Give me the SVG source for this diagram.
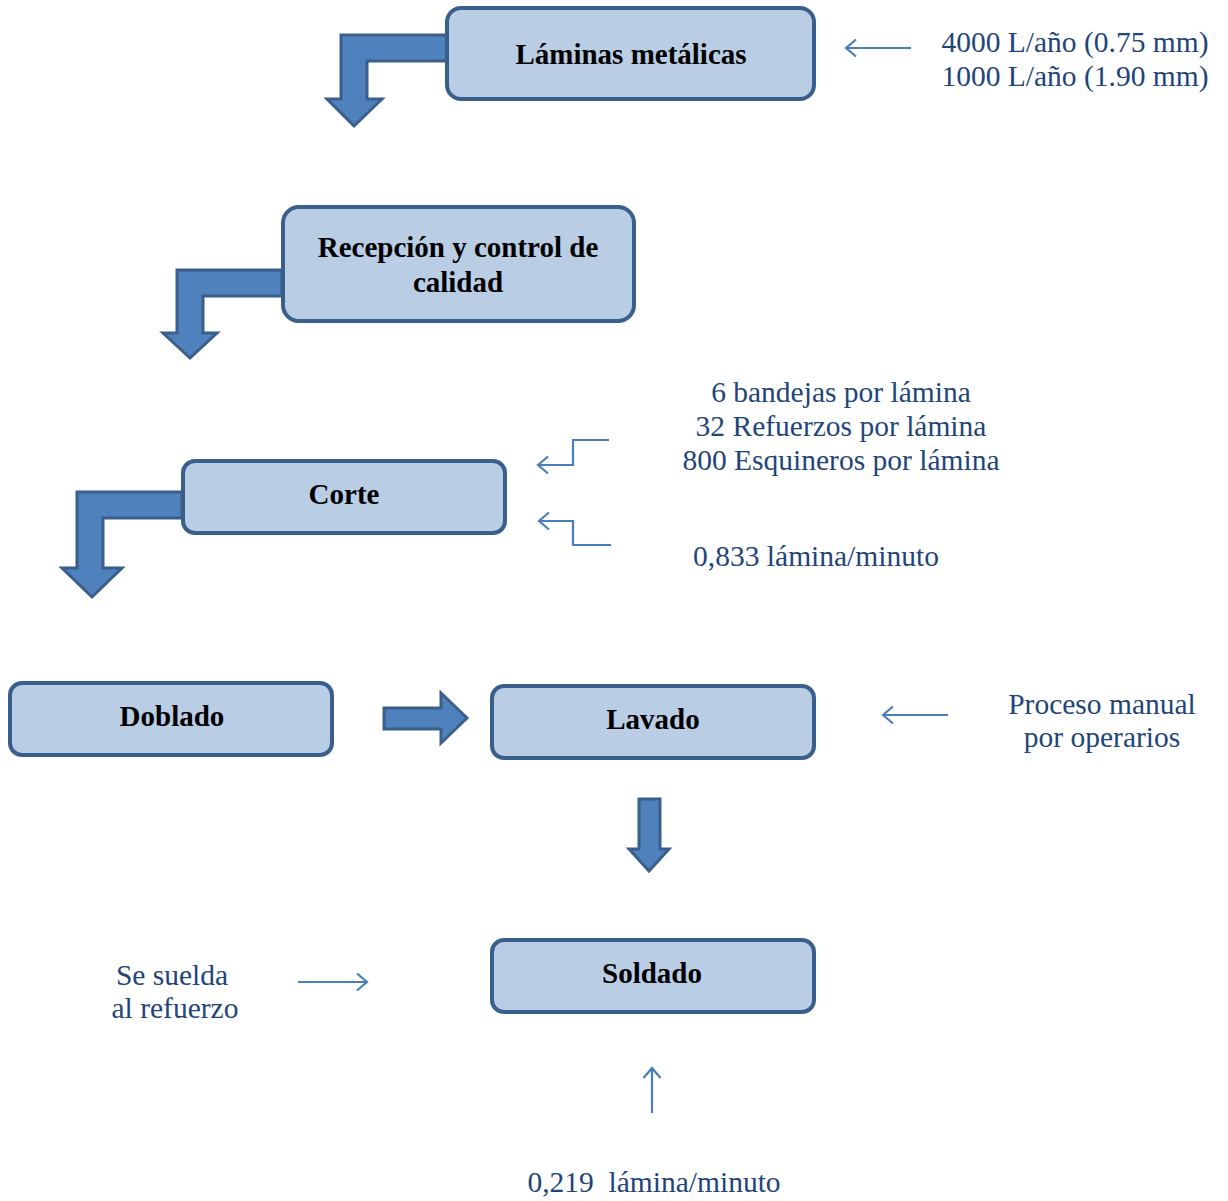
<svg xmlns="http://www.w3.org/2000/svg" width="1228" height="1201" viewBox="0 0 1228 1201">
<style>
.box{fill:#b9cde5;stroke:#3b5f8c;stroke-width:4}
.bt{font-family:"Liberation Serif",serif;font-weight:bold;font-size:29px;fill:#000;text-anchor:middle}
.nt{font-family:"Liberation Serif",serif;font-size:29.5px;fill:#1f457a;text-anchor:middle}
.fat{fill:#4f81bd;stroke:#3b5f8c;stroke-width:3;stroke-linejoin:miter}
.thin{fill:none;stroke:#4a7ebb;stroke-width:2.2}
</style>
<defs>
<marker id="chev" viewBox="0 0 20 20" refX="18" refY="10" markerWidth="20" markerHeight="20" markerUnits="userSpaceOnUse" orient="auto">
<path d="M8,1.5 L18,10 L8,18.5" fill="none" stroke="#4a7ebb" stroke-width="2.2"/>
</marker>
</defs>
<rect width="1228" height="1201" fill="#fff"/>
<g id="connectors">
<path class="fat" d="M447,35 L341,35 L341,99 L327,99 L354,126 L382,99 L367,99 L367,61 L447,61 Z"/>
<path class="fat" d="M282,270 L177,270 L177,333 L163,333 L190,358 L217,333 L203,333 L203,296 L282,296 Z"/>
<path class="fat" d="M182,492 L77,492 L77,568 L62,568 L92,597 L122,568 L103,568 L103,518 L182,518 Z"/>
<path class="fat" d="M384,708 L441,708 L441,693 L467,718 L441,743 L441,729 L384,729 Z"/>
<path class="fat" d="M639,799 L660,799 L660,849 L669,849 L649,871 L629,849 L639,849 Z"/>
<line class="thin" x1="911" y1="48" x2="846" y2="48" marker-end="url(#chev)"/>
<polyline class="thin" points="609,440 573,440 573,465 538,465" marker-end="url(#chev)"/>
<polyline class="thin" points="611,545 573,545 573,521 539,521" marker-end="url(#chev)"/>
<line class="thin" x1="948" y1="715" x2="883" y2="715" marker-end="url(#chev)"/>
<line class="thin" x1="298" y1="982" x2="367" y2="982" marker-end="url(#chev)"/>
<line class="thin" x1="652" y1="1113" x2="652" y2="1068" marker-end="url(#chev)"/>
</g>
<g id="n1"><rect class="box" x="447" y="8" width="367" height="91" rx="14"/><text class="bt" x="631" y="64">Láminas metálicas</text></g>
<g id="n2"><rect class="box" x="283" y="207" width="351" height="114" rx="16"/><text class="bt" x="458" y="257">Recepción y control de</text><text class="bt" x="458" y="292">calidad</text></g>
<g id="n3"><rect class="box" x="183" y="461" width="322" height="72" rx="12"/><text class="bt" x="344" y="504">Corte</text></g>
<g id="n4"><rect class="box" x="10" y="683" width="322" height="72" rx="12"/><text class="bt" x="172" y="726">Doblado</text></g>
<g id="n5"><rect class="box" x="492" y="686" width="322" height="72" rx="12"/><text class="bt" x="653" y="729">Lavado</text></g>
<g id="n6"><rect class="box" x="492" y="940" width="322" height="72" rx="12"/><text class="bt" x="652" y="983">Soldado</text></g>
<g id="labels">
<text class="nt" x="1075" y="52">4000 L/año (0.75 mm)</text>
<text class="nt" x="1075" y="86">1000 L/año (1.90 mm)</text>
<text class="nt" x="841" y="402">6 bandejas por lámina</text>
<text class="nt" x="841" y="436">32 Refuerzos por lámina</text>
<text class="nt" x="841" y="470">800 Esquineros por lámina</text>
<text class="nt" x="816" y="566">0,833 lámina/minuto</text>
<text class="nt" x="1102" y="714">Proceso manual</text>
<text class="nt" x="1102" y="747">por operarios</text>
<text class="nt" x="172" y="985">Se suelda</text>
<text class="nt" x="175" y="1018">al refuerzo</text>
<text class="nt" x="654" y="1192" xml:space="preserve">0,219  lámina/minuto</text>
</g>
</svg>
